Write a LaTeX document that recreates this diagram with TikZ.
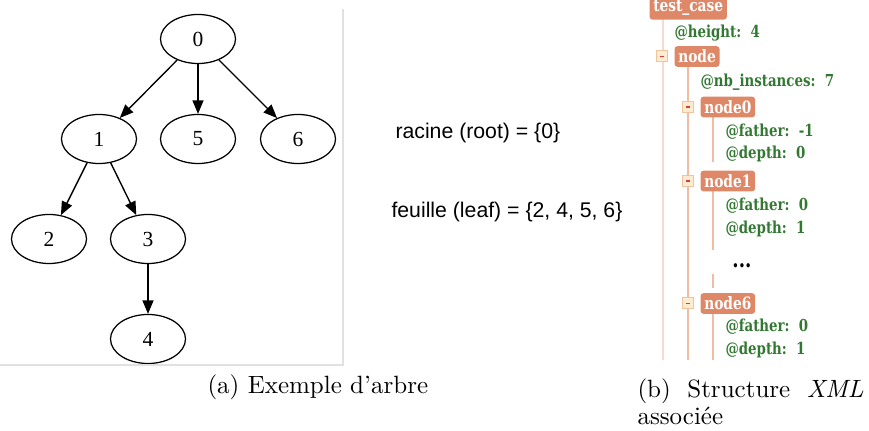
\documentclass[tikz,border=0pt]{standalone}
\usepackage{fontspec}
\usetikzlibrary{arrows.meta,shapes.geometric}
\newfontfamily\treefont{Liberation Serif}
\newfontfamily\setfont{Liberation Sans}
\newfontfamily\xmlfont[FakeStretch=0.9]{DejaVu Serif Condensed}
\definecolor{tagc}{RGB}{222,136,104}
\definecolor{attrc}{RGB}{50,120,50}
\definecolor{tcline}{RGB}{248,218,208}
\definecolor{ndline}{RGB}{240,188,162}
\definecolor{minfill}{RGB}{255,236,208}
\definecolor{minborder}{RGB}{240,196,160}
\definecolor{minred}{RGB}{220,60,60}
\definecolor{sepc}{RGB}{225,225,225}

\begin{document}
\begin{tikzpicture}[x=0.4pt,y=-0.4pt,>={Triangle[length=5.4pt,width=4.4pt]},
  vertex/.style={draw,ellipse,line width=0.5pt,minimum width=30pt,minimum height=19.6pt,inner sep=0pt,font=\treefont\fontsize{8.6}{9}\selectfont},
  edge/.style={->,line width=0.55pt},
  tag/.style={fill=tagc,text=white,anchor=west,rounded corners=1.2pt,inner sep=1.5pt,minimum height=7.4pt,font=\xmlfont\bfseries\fontsize{6.8}{7}\selectfont},
  attr/.style={text=attrc,anchor=west,inner sep=0pt,font=\xmlfont\bfseries\fontsize{6.6}{7}\selectfont},
  minus/.style={draw=minborder,fill=minfill,minimum size=4.4pt,inner sep=0pt,line width=0.4pt},
  guide/.style={line width=0.5pt}]
\useasboundingbox (0,0) rectangle (869,431);

% tree
\node[vertex] (n0) at (198,39) {0};
\node[vertex] (n1) at (99,139) {1};
\node[vertex] (n5) at (198,139) {5};
\node[vertex] (n6) at (298,139) {6};
\node[vertex] (n2) at (49,239) {2};
\node[vertex] (n3) at (148,239) {3};
\node[vertex] (n4) at (148,339) {4};
\draw[edge] (n0) -- (n1);
\draw[edge] (n0) -- (n5);
\draw[edge] (n0) -- (n6);
\draw[edge] (n1) -- (n2);
\draw[edge] (n1) -- (n3);
\draw[edge] (n3) -- (n4);
\draw[sepc,line width=0.5pt] (343,9) -- (343,365) -- (0,365);

% sets
\node[anchor=west,inner sep=0pt,font=\setfont\fontsize{8.5}{10}\selectfont] (root) at (395,133) {racine (root) = \{0\}};
\node[anchor=west,inner sep=0pt,font=\setfont\fontsize{8.5}{10}\selectfont] (leaf) at (391,212) {feuille (leaf) = \{2, 4, 5, 6\}};

% xml tree
\draw[guide,tcline] (663,17) -- (663,360);
\draw[guide,ndline] (688,66) -- (688,360);
\draw[guide,ndline] (713,116) -- (713,162);
\draw[guide,ndline] (713,191) -- (713,250);
\draw[guide,ndline] (713,274) -- (713,288);
\draw[guide,ndline] (713,313) -- (713,360);
\node[tag] (tc) at (649,8) {test\_case};
\node[attr] (height) at (674,33) {@height:~~4};
\node[minus] (m) at (662,56.5) {};
\node[tag] (nd) at (674,56.5) {node};
\node[attr] (nbi) at (700,82) {@nb\_instances:~~7};
\node[minus] (m0) at (688,107) {};
\node[tag] (nd0) at (700,107) {node0};
\node[attr] (f0) at (725,132) {@father:~~-1};
\node[attr] (d0) at (725,154) {@depth:~~0};
\node[minus] (m1) at (688,181) {};
\node[tag] (nd1) at (700,181) {node1};
\node[attr] (f1) at (725,206) {@father:~~0};
\node[attr] (d1) at (725,229) {@depth:~~1};
\node[inner sep=0pt,font=\xmlfont\bfseries\fontsize{9}{9}\selectfont] (dots) at (742,266) {...};
\node[minus] (m6) at (688,303.5) {};
\node[tag] (nd6) at (700,303.5) {node6};
\node[attr] (f6) at (725,327) {@father:~~0};
\node[attr] (d6) at (725,350) {@depth:~~1};
\foreach \m in {m,m0,m1,m6}
  \draw[minred,line width=0.5pt] ([xshift=-0.9pt]\m.center) -- ([xshift=0.9pt]\m.center);

% captions
\node[anchor=west,inner sep=0pt] (capa) at (207,387) {(a) Exemple d'arbre};
\node[anchor=north west,inner sep=0pt,align=left] (capb) at (637,378)
  {\hbox to 90.4pt{(b)\hfil Structure\hfil \textit{XML}}\\[-1pt] associée};
\end{tikzpicture}
\end{document}
